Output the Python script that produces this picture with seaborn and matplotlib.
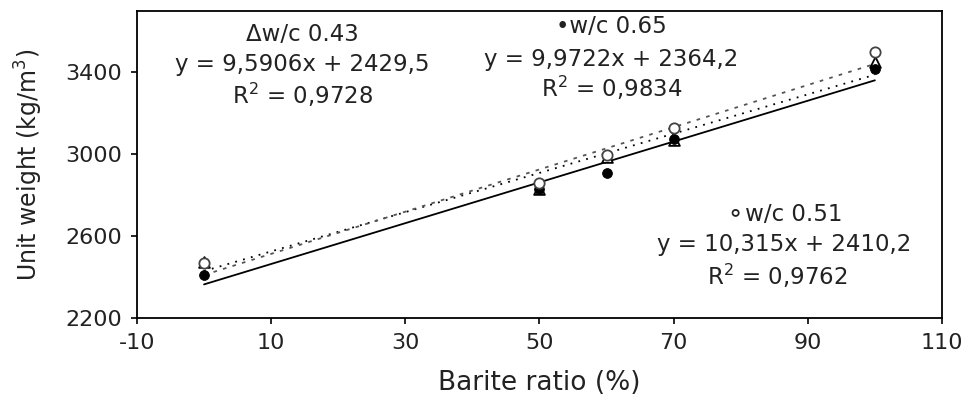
import numpy as np
import pandas as pd
import matplotlib
matplotlib.use('Agg')
import matplotlib.pyplot as plt
import seaborn as sns

barite = [0, 50, 60, 70, 100]
uw_043 = [2475, 2830, 2985, 3070, 3450]
uw_051 = [2470, 2860, 2995, 3130, 3500]
uw_065 = [2410, 2830, 2910, 3075, 3415]

# fitted trend lines as printed on the chart
slope = {'0.43': 9.5906, '0.51': 10.315, '0.65': 9.9722}
icept = {'0.43': 2429.5, '0.51': 2410.2, '0.65': 2364.2}
r2 = {'0.43': '0,9728', '0.51': '0,9762', '0.65': '0,9834'}
eq = {'0.43': 'y = 9,5906x + 2429,5',
      '0.51': 'y = 10,315x + 2410,2',
      '0.65': 'y = 9,9722x + 2364,2'}

df = pd.DataFrame({'barite': barite * 3,
                   'uw': uw_043 + uw_051 + uw_065,
                   'wc': ['0.43'] * 5 + ['0.51'] * 5 + ['0.65'] * 5})

sns.set_style('white')
plt.rcParams['font.family'] = ['DejaVu Sans']
plt.rcParams['axes.unicode_minus'] = False

fig = plt.figure(figsize=(9.7, 3.99), dpi=100)
ax = fig.add_axes([0.1412, 0.203, 0.8299, 0.7694])

# trend lines
xl = np.array([0, 100])
styles = {'0.43': dict(color='k', lw=1.3, ls=(0, (1, 3.5))),
          '0.51': dict(color='#555555', lw=1.3, ls=(0, (2, 3.5))),
          '0.65': dict(color='k', lw=1.3, ls='-')}
for wc in ['0.43', '0.51', '0.65']:
    sns.lineplot(x=xl, y=slope[wc] * xl + icept[wc], ax=ax, **styles[wc])

# points
sns.scatterplot(data=df[df.wc == '0.43'], x='barite', y='uw', ax=ax,
                marker='^', s=60, facecolor='white', edgecolor='k', linewidth=1.3, zorder=3)
sns.scatterplot(data=df[df.wc == '0.65'], x='barite', y='uw', ax=ax,
                marker='o', s=50, color='k', edgecolor='k', zorder=4)
sns.scatterplot(data=df[df.wc == '0.51'], x='barite', y='uw', ax=ax,
                marker='o', s=55, facecolor='white', edgecolor='#444444', linewidth=1.3, zorder=5)

fs = 16.5
tc = '#222222'
ax.text(14.7, 3585, '\u0394w/c 0.43', ha='center', va='center', fontsize=fs, color=tc)
ax.text(14.7, 3438, eq['0.43'], ha='center', va='center', fontsize=fs, color=tc)
ax.text(14.7, 3291, 'R$^2$ = ' + r2['0.43'], ha='center', va='center', fontsize=fs, color=tc)

ax.text(60.7, 3624, '\u2022w/c 0.65', ha='center', va='center', fontsize=fs, color=tc)
ax.text(60.7, 3463, eq['0.65'], ha='center', va='center', fontsize=fs, color=tc)
ax.text(60.7, 3326, 'R$^2$ = ' + r2['0.65'], ha='center', va='center', fontsize=fs, color=tc)

ax.text(86.5, 2704, '\u26acw/c 0.51', ha='center', va='center', fontsize=fs, color=tc)
ax.text(86.5, 2557, eq['0.51'], ha='center', va='center', fontsize=fs, color=tc)
ax.text(85.5, 2405, 'R$^2$ = ' + r2['0.51'], ha='center', va='center', fontsize=fs, color=tc)

ax.set_xlim(-10, 110)
ax.set_ylim(2200, 3700)
ax.set_xticks([-10, 10, 30, 50, 70, 90, 110])
ax.set_yticks([2200, 2600, 3000, 3400])
ax.tick_params(axis='both', direction='out', length=4, width=1.2, labelsize=16,
               colors='k', labelcolor=tc, bottom=True, left=True, pad=7)
for sp in ax.spines.values():
    sp.set_color('k')
    sp.set_linewidth(1.3)
ax.set_xlabel('Barite ratio (%)', fontsize=19, color=tc, labelpad=12)
ax.set_ylabel('Unit weight (kg/m$^3$)', fontsize=17, color=tc, labelpad=14)

fig.savefig('out.png', dpi=100)
